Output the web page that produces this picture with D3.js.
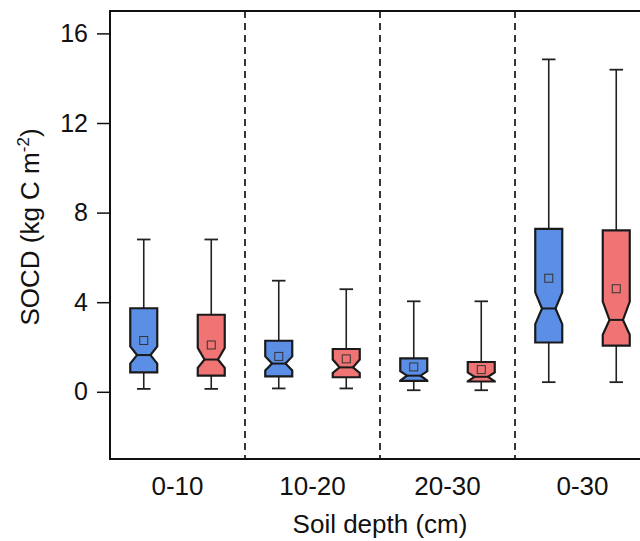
<!DOCTYPE html>
<html><head><meta charset="utf-8">
<script src="https://cdn.jsdelivr.net/npm/d3@7"></script>
<style>body{margin:0;background:#fff;} svg{display:block;font-family:"Liberation Sans",Arial,sans-serif;}</style>
</head><body>
<svg id="chart" width="640" height="541"></svg>
<script>
const categories = ["0-10", "10-20", "20-30", "0-30"];
const seriesColors = ["#5b8fe6", "#f07474"];
const yTicks = [0, 4, 8, 12, 16];

// series 1 (blue), one value per category
const blueWhiskerLow = [0.13, 0.15, 0.07, 0.43];
const blueQ1 = [0.87, 0.69, 0.49, 2.2];
const blueNotchLow = [1.26, 0.95, 0.5, 3.02];
const blueMedian = [1.64, 1.26, 0.72, 3.72];
const blueNotchHigh = [2.03, 1.58, 0.92, 4.44];
const blueQ3 = [3.73, 2.28, 1.49, 7.27];
const blueWhiskerHigh = [6.8, 4.96, 4.04, 14.84];
const blueMean = [2.29, 1.58, 1.11, 5.07];

// series 2 (red)
const redWhiskerLow = [0.13, 0.15, 0.07, 0.43];
const redQ1 = [0.72, 0.65, 0.46, 2.06];
const redNotchLow = [1.07, 0.84, 0.47, 2.55];
const redMedian = [1.44, 1.09, 0.67, 3.21];
const redNotchHigh = [1.96, 1.44, 0.87, 4.03];
const redQ3 = [3.44, 1.91, 1.33, 7.21];
const redWhiskerHigh = [6.8, 4.58, 4.04, 14.38];
const redMean = [2.09, 1.47, 0.99, 4.6];

const svg = d3.select("#chart");
const L = 110, T = 11, B = 459, R = 650;
const x = d3.scaleLinear().domain([0.5, 8.5]).range([L, R]);
const y = d3.scaleLinear().domain([-3, 17]).range([B, T]);

const series = [
  {color: seriesColors[0], wl: blueWhiskerLow, q1: blueQ1, nl: blueNotchLow, med: blueMedian, nh: blueNotchHigh, q3: blueQ3, wh: blueWhiskerHigh, mean: blueMean},
  {color: seriesColors[1], wl: redWhiskerLow, q1: redQ1, nl: redNotchLow, med: redMedian, nh: redNotchHigh, q3: redQ3, wh: redWhiskerHigh, mean: redMean}
];

// dashed separators
[2.5, 4.5, 6.5].forEach(p => {
  svg.append("line").attr("x1", x(p)).attr("x2", x(p)).attr("y1", T).attr("y2", B)
    .attr("stroke", "#222").attr("stroke-width", 1.8).attr("stroke-dasharray", "7,5");
});

const boxes = [];
categories.forEach((c, i) => {
  series.forEach((s, j) => {
    boxes.push({pos: i * 2 + j + 1, color: s.color, wl: s.wl[i], q1: s.q1[i], nl: s.nl[i], med: s.med[i], nh: s.nh[i], q3: s.q3[i], wh: s.wh[i], mean: s.mean[i]});
  });
});

const halfW = 0.2;
boxes.forEach(b => {
  const cx = x(b.pos);
  const w = x(b.pos + halfW) - cx;
  const cw = w / 2;
  const g = svg.append("g");
  g.append("line").attr("x1", cx).attr("x2", cx).attr("y1", y(b.q3)).attr("y2", y(b.wh)).attr("stroke", "#222").attr("stroke-width", 1.6);
  g.append("line").attr("x1", cx).attr("x2", cx).attr("y1", y(b.q1)).attr("y2", y(b.wl)).attr("stroke", "#222").attr("stroke-width", 1.6);
  g.append("line").attr("x1", cx - cw).attr("x2", cx + cw).attr("y1", y(b.wh)).attr("y2", y(b.wh)).attr("stroke", "#222").attr("stroke-width", 1.8);
  g.append("line").attr("x1", cx - cw).attr("x2", cx + cw).attr("y1", y(b.wl)).attr("y2", y(b.wl)).attr("stroke", "#222").attr("stroke-width", 1.8);
  const pts = [
    [cx - w, y(b.q3)], [cx + w, y(b.q3)], [cx + w, y(b.nh)], [cx + cw, y(b.med)], [cx + w, y(b.nl)],
    [cx + w, y(b.q1)], [cx - w, y(b.q1)], [cx - w, y(b.nl)], [cx - cw, y(b.med)], [cx - w, y(b.nh)]
  ];
  g.append("path").attr("d", d3.line()(pts) + "Z").attr("fill", b.color)
    .attr("stroke", "#1a1a1a").attr("stroke-width", 2.2).attr("stroke-linejoin", "miter");
  g.append("line").attr("x1", cx - cw).attr("x2", cx + cw).attr("y1", y(b.med)).attr("y2", y(b.med)).attr("stroke", "#1a1a1a").attr("stroke-width", 2);
  g.append("rect").attr("x", cx - 4).attr("y", y(b.mean) - 4).attr("width", 8).attr("height", 8)
    .attr("fill", "none").attr("stroke", "#333").attr("stroke-width", 1);
});

// frame
svg.append("path").attr("d", `M${R},${T}H${L}V${B}H${R}`).attr("fill", "none").attr("stroke", "#111").attr("stroke-width", 2);

// y axis
const yAxis = svg.append("g").attr("transform", `translate(${L},0)`)
  .call(d3.axisLeft(y).tickValues(yTicks).tickSize(13).tickPadding(9));
yAxis.select(".domain").remove();
yAxis.selectAll(".tick line").attr("stroke", "#111").attr("stroke-width", 1.5);
yAxis.selectAll(".tick text").attr("font-size", 25).attr("fill", "#111")
  .attr("font-family", "Liberation Sans, Arial, sans-serif");

// category labels
categories.forEach((c, i) => {
  svg.append("text").attr("x", x(i * 2 + 1.5)).attr("y", 495).attr("text-anchor", "middle")
    .attr("font-size", 26).attr("fill", "#111").text(c);
});

svg.append("text").attr("x", (L + R) / 2).attr("y", 533).attr("text-anchor", "middle")
  .attr("font-size", 26).attr("fill", "#111").text("Soil depth (cm)");

const yl = svg.append("text").attr("transform", `translate(39,227) rotate(-90)`)
  .attr("text-anchor", "middle").attr("font-size", 26).attr("fill", "#111");
yl.append("tspan").text("SOCD (kg C m");
yl.append("tspan").attr("dy", -10).attr("font-size", 17).text("-2");
yl.append("tspan").attr("dy", 10).text(")");
</script>
</body></html>
